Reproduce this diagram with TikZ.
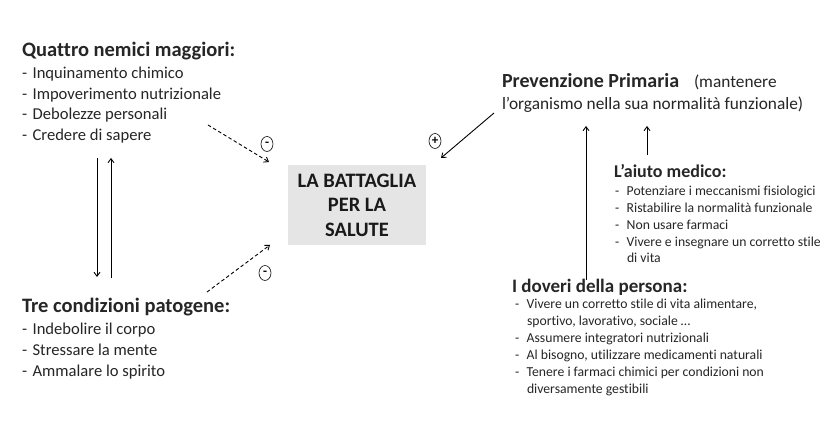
\documentclass[tikz,border=0pt]{standalone}
\usepackage{fontspec}
\setmainfont[Ligatures=NoCommon]{Carlito}
\usetikzlibrary{arrows.meta,shapes.geometric}
\tikzset{
  x=1pt, y=-1pt,
  txt/.style={anchor=base west, inner sep=0pt, outer sep=0pt, text=black!85},
  bigtitle/.style={txt, font=\fontsize{20.5}{24}\selectfont\bfseries},
  item/.style={txt, font=\fontsize{16.6}{20}\selectfont},
  small/.style={txt, font=\fontsize{13.7}{16}\selectfont},
  arr/.style={line width=0.9pt, -{Straight Barb[length=4pt,width=6pt]}},
  darr/.style={arr, dashed, dash pattern=on 3.5pt off 2.5pt},
  sign/.style={draw, ellipse, line width=0.6pt, minimum width=12pt, minimum height=15pt, inner sep=0pt, font=\fontsize{13}{13}\selectfont\bfseries},
}
\begin{document}
\begin{tikzpicture}
\useasboundingbox[fill=white] (0,0) rectangle (831,435);

% left top block
\node[bigtitle] (q0) at (22,57) {Quattro nemici maggiori:};
\node[item] (q1) at (22,79) {-\hspace{5.5pt}Inquinamento chimico};
\node[item] (q2) at (22,99.5) {-\hspace{5.5pt}Impoverimento nutrizionale};
\node[item] (q3) at (22,120) {-\hspace{5.5pt}Debolezze personali};
\node[item] (q4) at (22,140.5) {-\hspace{5.5pt}Credere di sapere};

% left bottom block
\node[bigtitle] (t0) at (22,313) {Tre condizioni patogene:};
\node[item] (t1) at (22,335) {-\hspace{5.5pt}Indebolire il corpo};
\node[item] (t2) at (22,356) {-\hspace{5.5pt}Stressare la mente};
\node[item] (t3) at (22,377) {-\hspace{5.5pt}Ammalare lo spirito};

% vertical arrows left
\coordinate (la1) at (97,158);
\coordinate (la2) at (97,277);
\coordinate (lb1) at (111,278);
\coordinate (lb2) at (111,158);
\draw[arr] (la1) -- (la2);
\draw[arr] (lb1) -- (lb2);

% central box
\node[fill=black!10, minimum width=138pt, minimum height=80pt, inner sep=0pt,
      align=center, font=\fontsize{20.5}{24.5}\selectfont\bfseries, text=black!90]
  (box) at (357,205) {LA BATTAGLIA\\PER LA\\SALUTE};

% dashed arrows with minus signs
\coordinate (d1s) at (208,125);
\coordinate (d1e) at (269,162);
\draw[darr] (d1s) -- (d1e);
\node[sign] (m1) at (267,144) {-};
\coordinate (d2s) at (207,292);
\coordinate (d2e) at (270,245);
\draw[darr] (d2s) -- (d2e);
\node[sign] (m2) at (265,273) {-};

% right top
\node[txt, font=\fontsize{20}{22}\selectfont\bfseries] (p0) at (502,88) {Prevenzione Primaria};
\node[txt, font=\fontsize{17.3}{20}\selectfont] (p1) at (694,88) {(mantenere};
\node[txt, font=\fontsize{17.3}{20}\selectfont] (p2) at (502,110) {l’organismo nella sua normalità funzionale)};

\coordinate (pa1) at (494,113);
\coordinate (pa2) at (441,158);
\draw[arr] (pa1) -- (pa2);
\node[sign] (pl) at (435,141) {+};

% up arrows right
\coordinate (ra1) at (586,280);
\coordinate (ra2) at (586,126);
\draw[arr] (ra1) -- (ra2);
\coordinate (rb1) at (647,155);
\coordinate (rb2) at (647,126);
\draw[arr] (rb1) -- (rb2);

% aiuto medico
\node[txt, font=\fontsize{18}{22}\selectfont\bfseries] (a0) at (614,178) {L’aiuto medico:};
\node[small] (a1) at (615,196) {-\hspace{7.5pt}Potenziare i meccanismi fisiologici};
\node[small] (a2) at (615,213) {-\hspace{7.5pt}Ristabilire la normalità funzionale};
\node[small] (a3) at (615,230) {-\hspace{7.5pt}Non usare farmaci};
\node[small] (a4) at (615,247) {-\hspace{7.5pt}Vivere e insegnare un corretto stile};
\node[small] (a5) at (627,263) {di vita};

% doveri della persona
\node[txt, font=\fontsize{19}{22}\selectfont\bfseries] (d0) at (512,293) {I doveri della persona:};
\node[small] (e1) at (515,309) {-\hspace{7.5pt}Vivere un corretto stile di vita alimentare,};
\node[small] (e2) at (527,326) {sportivo, lavorativo, sociale …};
\node[small] (e3) at (515,343) {-\hspace{7.5pt}Assumere integratori nutrizionali};
\node[small] (e4) at (515,360) {-\hspace{7.5pt}Al bisogno, utilizzare medicamenti naturali};
\node[small] (e5) at (515,377) {-\hspace{7.5pt}Tenere i farmaci chimici per condizioni non};
\node[small] (e6) at (527,394) {diversamente gestibili};
\end{tikzpicture}
\end{document}
